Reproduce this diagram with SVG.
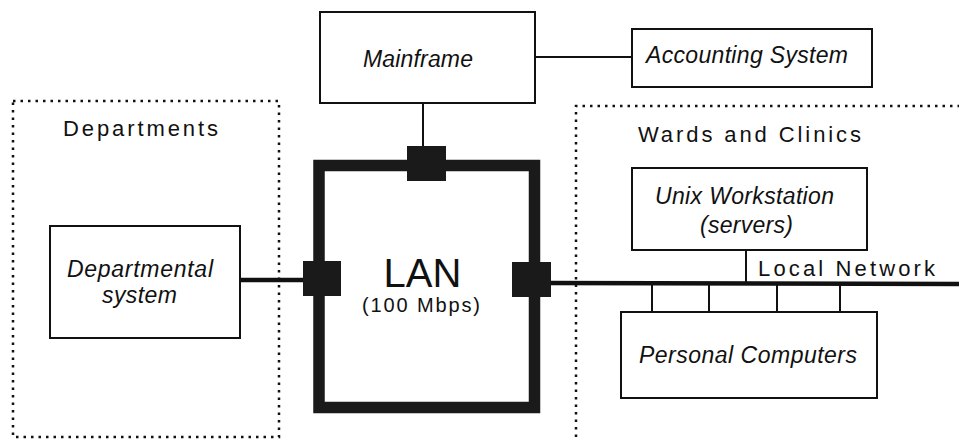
<svg xmlns="http://www.w3.org/2000/svg" width="959" height="439" viewBox="0 0 959 439">
  <style>
    .box { fill: #fff; stroke: #111; stroke-width: 2; }
    .zone { fill: none; stroke: #111; stroke-width: 2.5; stroke-dasharray: 2.5 5; }
    .wire { stroke: #111; stroke-width: 2; fill: none; }
    .bus { stroke: #111; stroke-width: 4.5; fill: none; }
    .port { fill: #1a1a1a; }
    .lbl { font-family: "Liberation Sans", Arial, sans-serif; font-size: 23px; font-style: italic; fill: #111; }
    .zlbl { font-family: "Liberation Sans", Arial, sans-serif; font-size: 22px; fill: #111; }
  </style>
  <rect width="959" height="439" fill="#fff"/>

  <!-- dotted zones -->
  <g id="zone-departments">
    <rect class="zone" x="13" y="101" width="266" height="336"/>
    <text class="zlbl" x="63" y="136" textLength="155" lengthAdjust="spacing">Departments</text>
  </g>
  <g id="zone-wards">
    <path class="zone" d="M960,106 H576 V440"/>
    <text class="zlbl" x="638" y="142" textLength="223" lengthAdjust="spacing">Wards and Clinics</text>
  </g>

  <!-- connectors -->
  <g id="connectors">
    <line class="wire" x1="535" y1="57" x2="632" y2="57"/>
    <line class="wire" x1="423" y1="103" x2="423" y2="148"/>
    <line class="bus" x1="240" y1="280" x2="305" y2="280"/>
    <line class="bus" x1="550" y1="283" x2="959" y2="284"/>
    <line class="wire" x1="746" y1="250" x2="746" y2="283"/>
    <line class="wire" x1="652" y1="284" x2="652" y2="312"/>
    <line class="wire" x1="709" y1="284" x2="709" y2="312"/>
    <line class="wire" x1="777" y1="284" x2="777" y2="312"/>
    <line class="wire" x1="840" y1="284" x2="840" y2="312"/>
  </g>

  <g id="mainframe">
    <rect class="box" x="320" y="12" width="215" height="91"/>
    <text class="lbl" x="363" y="67" textLength="110" lengthAdjust="spacing">Mainframe</text>
  </g>

  <g id="accounting">
    <rect class="box" x="632" y="29" width="240" height="58"/>
    <text class="lbl" x="646" y="63" textLength="202" lengthAdjust="spacing">Accounting System</text>
  </g>

  <g id="lan">
    <rect x="319" y="165.5" width="215.5" height="242" fill="none" stroke="#1a1a1a" stroke-width="11.5"/>
    <rect class="port" x="407" y="146" width="39" height="35"/>
    <rect class="port" x="303" y="261" width="38" height="35"/>
    <rect class="port" x="512" y="262" width="39" height="35"/>
    <text x="422.5" y="287" text-anchor="middle" font-family="Liberation Sans, Arial, sans-serif" font-size="40" fill="#111">LAN</text>
    <text x="362" y="312" textLength="118" lengthAdjust="spacing" font-family="Liberation Sans, Arial, sans-serif" font-size="20" fill="#111">(100 Mbps)</text>
  </g>

  <g id="departmental">
    <rect class="box" x="50" y="226" width="190" height="112"/>
    <text class="lbl" x="67" y="277" textLength="146" lengthAdjust="spacing">Departmental</text>
    <text class="lbl" x="102" y="303" textLength="75" lengthAdjust="spacing">system</text>
  </g>

  <g id="unix">
    <rect class="box" x="632" y="168" width="235" height="82"/>
    <text class="lbl" x="655" y="204" textLength="179" lengthAdjust="spacing">Unix Workstation</text>
    <text class="lbl" x="700" y="233" textLength="93" lengthAdjust="spacing">(servers)</text>
  </g>

  <g id="local-network-label">
    <text class="zlbl" x="758" y="276" textLength="177" lengthAdjust="spacing">Local Network</text>
  </g>

  <g id="pcs">
    <rect class="box" x="621" y="312" width="256" height="86"/>
    <text class="lbl" x="639" y="363" textLength="218" lengthAdjust="spacing">Personal Computers</text>
  </g>
</svg>
